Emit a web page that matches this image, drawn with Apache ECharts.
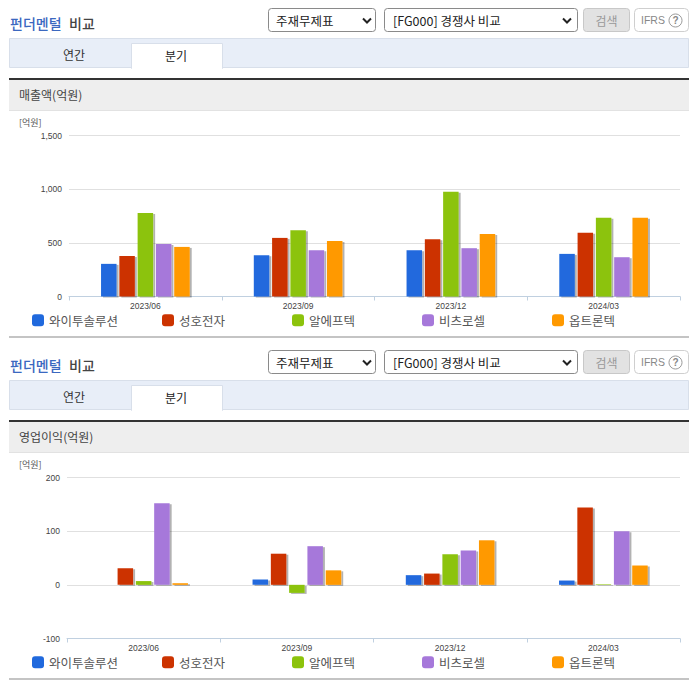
<!DOCTYPE html>
<html><head><meta charset="utf-8">
<style>html,body{margin:0;padding:0;background:#fff}#c{width:696px;height:684px}</style>
<script src="https://cdn.jsdelivr.net/npm/echarts@6/dist/echarts.min.js"></script>
</head><body><div id="c"></div>
<script>
const categories = ['2023/06','2023/09','2023/12','2024/03'];
const seriesNames = ['와이투솔루션','성호전자','알에프텍','비츠로셀','옵트론텍'];
const seriesColors = ['#2069DD','#CC3300','#8CC30C','#A678DA','#FF9900'];
const salesTicks = [0,500,1000,1500];
const sales = [
  [304,385,431,397],
  [378,546,534,593],
  [779,618,975,733],
  [490,431,450,366],
  [462,518,583,733]
];
const profit = [
  [null,10,18,8],
  [31,58,21,144],
  [7,-15,57,1],
  [152,72,64,100],
  [3,27,83,36]
];
const panelTitles = ['매출액(억원)','영업이익(억원)'];
const KR = '"Noto Sans CJK KR","Noto Sans",sans-serif';
const LAT = '"Liberation Sans",Arial,sans-serif';

const g = [];
function rect(x,y,w,h,fill,stroke,r){g.push({type:'rect',silent:true,z:1,shape:{x,y,width:w,height:h,r:r||0},style:{fill,stroke:stroke||null,lineWidth:stroke?1:0}});}
function text(x,y,t,font,fill,align){g.push({type:'text',silent:true,z:3,x,y,style:{text:t,font,fill,align:align||'left',verticalAlign:'middle'}});}
function chev(x,y){g.push({type:'polyline',silent:true,z:3,shape:{points:[[x-4,y-2],[x,y+2],[x+4,y-2]]},style:{fill:null,stroke:'#222',lineWidth:2}});}

[0,342].forEach((d,i)=>{
  text(10,22.5+d,'펀더멘털','500 14px '+KR,'#3B68C0');
  text(69,22.5+d,'비교','500 14px '+KR,'#444');
  rect(268.5,8.5+d,107,23,'#fff','#8a8a8a',3);
  text(276,20+d,'주재무제표','12.5px '+KR,'#222');
  chev(367,20.5+d);
  rect(384.5,8.5+d,193,23,'#fff','#8a8a8a',3);
  text(393,20+d,'[FG000] 경쟁사 비교','12.5px '+KR,'#222');
  chev(567,20.5+d);
  rect(583.5,8.5+d,46,23,'#E2E2E2','#C8C8C8',3);
  text(606.5,20+d,'검색','12px '+KR,'#999','center');
  rect(634.5,8.5+d,54,23,'#fff','#CFCFCF',4);
  text(641,20+d,'IFRS','10.5px '+LAT,'#888');
  g.push({type:'circle',silent:true,z:3,shape:{cx:675.5,cy:20.5+d,r:6.5},style:{fill:'#fff',stroke:'#999',lineWidth:1}});
  text(675.5,20.5+d,'?','bold 10px '+LAT,'#888','center');
  rect(9.5,38.5+d,679,29,'#E8EEF8','#D8DFEA');
  rect(131.5,43.5+d,91,25,'#fff','#D8DFEA');
  rect(132,66+d,90,3,'#fff');
  text(74,54+d,'연간','12px '+KR,'#333','center');
  text(176,55+d,'분기','12px '+KR,'#222','center');
  rect(9,78+d,680,2,'#333');
  rect(9,80+d,680,30,'#EEEEEE');
  rect(9,110+d,680,1,'#E2E2E2');
  text(19,94.5+d,panelTitles[i],'12px '+KR,'#444');
  text(19,122+d,'[억원]','9px '+KR,'#555');
  rect(9,336+d,680,2,'#C4C4C4');
});

function grid(left,top,h){return {left,top,width:680-left,height:h,containLabel:false};}
const axisLabel = {fontFamily:LAT,fontSize:8.5,color:'#444'};
const xAxis = [0,1].map(i=>({
  type:'category',gridIndex:i,data:categories,position:'bottom',
  axisLine:{onZero:false,lineStyle:{color:'#C0D0E0',width:1}},
  axisTick:{show:true,length:4,lineStyle:{color:'#C0D0E0'}},
  axisLabel:{...axisLabel,margin:5,interval:0}
}));
const yAxis = [
  {type:'value',gridIndex:0,min:0,max:salesTicks[3],interval:salesTicks[1],
   axisLine:{show:false},axisTick:{show:false},splitLine:{lineStyle:{color:'#E0E0E0'}},
   axisLabel:{...axisLabel,margin:7,formatter:v=>v.toLocaleString('en-US')}},
  {type:'value',gridIndex:1,min:-100,max:200,interval:100,
   axisLine:{show:false},axisTick:{show:false},splitLine:{lineStyle:{color:'#E0E0E0'}},
   axisLabel:{...axisLabel,margin:7}}
];
function bars(arr,idx){
  return arr.map((vals,k)=>({
    type:'bar',name:seriesNames[k],xAxisIndex:idx,yAxisIndex:idx,data:vals,
    barWidth:15.5,barGap:'18%',
    itemStyle:{color:seriesColors[k],shadowColor:'rgba(0,0,0,0.3)',shadowBlur:1.5,shadowOffsetX:2,shadowOffsetY:1},
    emphasis:{disabled:true},animation:false
  }));
}
const legends = [];
[320,662].forEach(cy=>{
  seriesNames.forEach((n,k)=>{
    legends.push({data:[n],left:32+130*k,top:cy-6,itemWidth:12,itemHeight:12,itemGap:5,
      icon:'roundRect',selectedMode:false,padding:0,
      textStyle:{fontFamily:KR,fontSize:12.5,color:'#555',padding:[0,0,0,0]}});
  });
});
const chart = echarts.init(document.getElementById('c'),null,{renderer:'svg'});
chart.setOption({
  animation:false,backgroundColor:'#fff',
  grid:[grid(69,135.5,161),grid(67,477.5,161)],
  xAxis,yAxis,legend:legends,
  series:[...bars(sales,0),...bars(profit,1)],
  graphic:g
});
</script></body></html>
